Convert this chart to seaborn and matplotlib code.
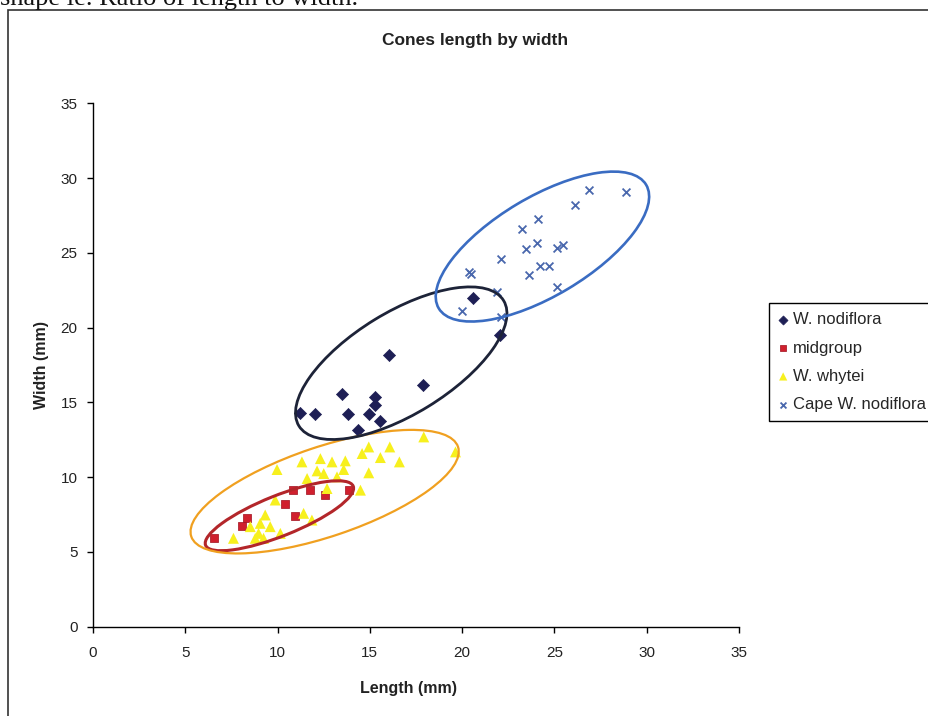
import matplotlib
matplotlib.use('Agg')
from matplotlib import pyplot as plt
from matplotlib.patches import Ellipse, Rectangle
from matplotlib.transforms import ScaledTranslation
import seaborn as sns
import pandas as pd

# --- data (Length mm, Width mm) ---
nodiflora_len = [20.6, 22.05, 16.06, 17.87, 13.49, 15.3, 15.3, 11.23, 12.05, 13.82, 14.98, 15.57, 14.34]
nodiflora_wid = [21.95, 19.51, 18.2, 16.13, 15.53, 15.35, 14.8, 14.31, 14.2, 14.2, 14.2, 13.75, 13.13]

midgroup_len = [6.53, 8.07, 8.34, 10.42, 10.96, 10.83, 11.77, 12.59, 13.85]
midgroup_wid = [5.91, 6.73, 7.25, 8.18, 7.4, 9.13, 9.13, 8.8, 9.13]

whytei_len = [17.92, 19.64, 16.08, 14.94, 14.58, 15.57, 16.6, 14.94, 13.67, 13.58, 12.95,
              12.32, 12.14, 12.5, 11.32, 9.97, 11.6, 13.22, 14.49, 12.68, 11.41, 11.86,
              10.15, 9.33, 9.06, 9.6, 8.52, 8.97, 8.79, 9.24, 7.61, 9.87]
whytei_wid = [12.69, 11.69, 12.02, 12.02, 11.58, 11.31, 11.02, 10.29, 11.09, 10.51, 11.02,
              11.24, 10.42, 10.24, 11.02, 10.51, 9.91, 10.02, 9.13, 9.24, 7.58, 7.13,
              6.24, 7.47, 6.91, 6.69, 6.69, 6.24, 5.91, 5.91, 5.91, 8.47]

cape_len = [26.88, 28.87, 26.1, 24.11, 23.26, 24.04, 23.44, 25.12, 25.49, 22.12, 24.22,
            24.71, 23.62, 25.12, 20.37, 20.49, 21.9, 20.0, 22.08]
cape_wid = [29.18, 29.09, 28.18, 27.24, 26.62, 25.69, 25.24, 25.31, 25.53, 24.58, 24.13,
            24.13, 23.51, 22.73, 23.69, 23.58, 22.35, 21.13, 20.69]

groups = ['W. nodiflora', 'midgroup', 'W. whytei', 'Cape W. nodiflora']
xticks = [0, 5, 10, 15, 20, 25, 30, 35]
yticks = [0, 5, 10, 15, 20, 25, 30, 35]

df = pd.concat([
    pd.DataFrame({'len': nodiflora_len, 'wid': nodiflora_wid, 'group': groups[0]}),
    pd.DataFrame({'len': midgroup_len, 'wid': midgroup_wid, 'group': groups[1]}),
    pd.DataFrame({'len': whytei_len, 'wid': whytei_wid, 'group': groups[2]}),
    pd.DataFrame({'len': cape_len, 'wid': cape_wid, 'group': groups[3]}),
])

styles = {
    'W. nodiflora': dict(marker='D', color='#1e1f55', s=38, edgecolor='#1e1f55'),
    'midgroup': dict(marker='s', color='#d0202e', s=40, edgecolor='#a0101e'),
    'W. whytei': dict(marker='^', color='#f7f01e', s=62, edgecolor='none'),
    'Cape W. nodiflora': dict(marker='x', color='#4a68ad', s=32, linewidth=1.3),
}

# hand drawn group outlines: centre (data), semi axes (inches), angle (deg)
outlines = [
    ((10.10, 7.42), 0.795, 0.202, 21.8, '#b3262a', 2.2),
    ((12.55, 9.03), 1.407, 0.448, 18.6, '#f0a020', 1.6),
    ((16.70, 17.62), 1.20, 0.51, 31.5, '#1d2338', 2.0),
    ((24.35, 25.42), 1.207, 0.494, 30.8, '#3a6cc2', 1.9),
]

sns.set_style('white')
plt.rcParams['font.family'] = ['Liberation Sans', 'DejaVu Sans']

fig = plt.figure(figsize=(9.29, 7.16), dpi=100)
ax = fig.add_axes([93 / 929, 1 - 626.7 / 716, 646 / 929, 523.4 / 716])

for g in groups:
    sub = df[df['group'] == g]
    sns.scatterplot(data=sub, x='len', y='wid', label=g, ax=ax, zorder=3, **styles[g])

for (cx, cy), a, b, ang, col, lw in outlines:
    tr = fig.dpi_scale_trans + ScaledTranslation(cx, cy, ax.transData)
    ax.add_patch(Ellipse((0, 0), 2 * a, 2 * b, angle=ang, transform=tr,
                         fill=False, edgecolor=col, linewidth=lw, zorder=4))

ax.set_xlim(0, 35)
ax.set_ylim(0, 35)
ax.set_xticks(xticks)
ax.set_yticks(yticks)
ax.tick_params(axis='both', direction='out', length=4, width=1, color='black',
               labelsize=11, colors='#222222', bottom=True, left=True, pad=7)
ax.tick_params(axis='x', pad=10)
sns.despine(ax=ax)
for sp in ('left', 'bottom'):
    ax.spines[sp].set_color('black')
    ax.spines[sp].set_linewidth(1)

ax.set_xlabel('Length (mm)', fontsize=11.5, fontweight='bold', color='#222222')
ax.set_ylabel('Width (mm)', fontsize=11.5, fontweight='bold', color='#222222')
ax.xaxis.set_label_coords(0.488, -0.104)
ax.yaxis.set_label_coords(-0.068, 0.5)

fig.text(475 / 929, 1 - 40 / 716, 'Cones length by width', ha='center', va='center',
         fontsize=12.5, fontweight='bold', color='#222222')

ax.legend(loc='upper left', bbox_to_anchor=(769 / 929, 1 - 303 / 716),
          bbox_transform=fig.transFigure, frameon=True, fancybox=False,
          edgecolor='black', framealpha=1, fontsize=12, markerscale=0.75,
          handlelength=0.6, handletextpad=0.3, labelspacing=0.8, borderpad=0.55,
          borderaxespad=0)

# outer chart frame and the cut-off caption line of the scanned page
fig.add_artist(Rectangle((8 / 929, -0.02), 1.2, 1 - 9.5 / 716 + 0.02,
                         transform=fig.transFigure, fill=False,
                         edgecolor='#333333', linewidth=1.2))
fig.text(0 / 929, 1 - 5 / 716, 'shape ie. Ratio of length to width.', ha='left',
         va='baseline', fontsize=19, family='Liberation Serif', color='#111111')

fig.savefig('out.png', dpi=100)
